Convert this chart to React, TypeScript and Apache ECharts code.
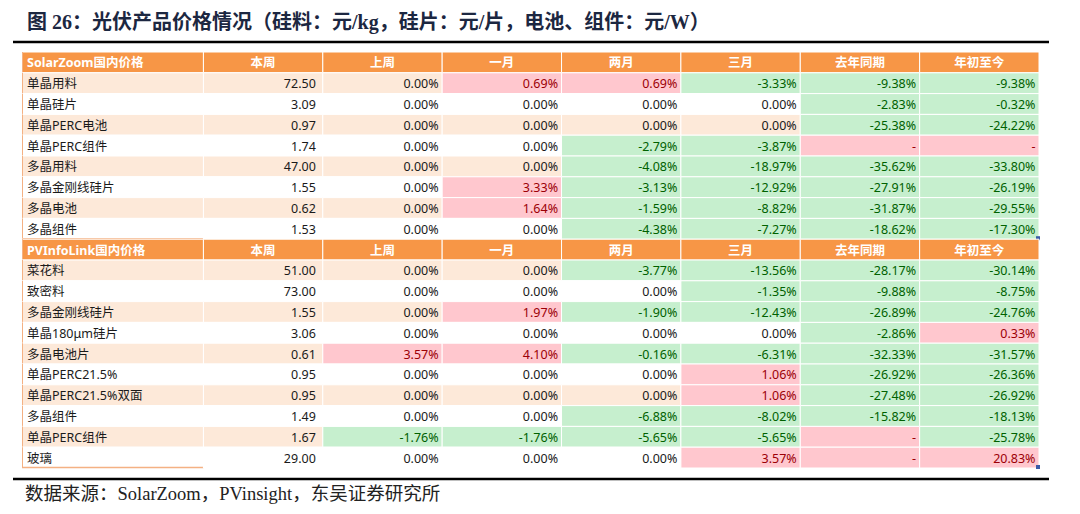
import React, { useEffect, useRef } from "react";
import * as echarts from "echarts";

const columnNames = ["本周", "上周", "一月", "两月", "三月", "去年同期", "年初至今"];
const sectionTitles = ["SolarZoom国内价格", "PVInfoLink国内价格"];

const szProducts = ["单晶用料", "单晶硅片", "单晶PERC电池", "单晶PERC组件", "多晶用料", "多晶金刚线硅片", "多晶电池", "多晶组件"];
const szPrice = [72.5, 3.09, 0.97, 1.74, 47.0, 1.55, 0.62, 1.53];
const szWeek = [0, 0, 0, 0, 0, 0, 0, 0];
const szMonth1 = [0.69, 0, 0, 0, 0, 3.33, 1.64, 0];
const szMonth2 = [0.69, 0, 0, -2.79, -4.08, -3.13, -1.59, -4.38];
const szMonth3 = [-3.33, 0, 0, -3.87, -18.97, -12.92, -8.82, -7.27];
const szYoY = [-9.38, -2.83, -25.38, null, -35.62, -27.91, -31.87, -18.62];
const szYtd = [-9.38, -0.32, -24.22, null, -33.8, -26.19, -29.55, -17.3];

const pvProducts = ["菜花料", "致密料", "多晶金刚线硅片", "单晶180μm硅片", "多晶电池片", "单晶PERC21.5%", "单晶PERC21.5%双面", "多晶组件", "单晶PERC组件", "玻璃"];
const pvPrice = [51.0, 73.0, 1.55, 3.06, 0.61, 0.95, 0.95, 1.49, 1.67, 29.0];
const pvWeek = [0, 0, 0, 0, 3.57, 0, 0, 0, -1.76, 0];
const pvMonth1 = [0, 0, 1.97, 0, 4.1, 0, 0, 0, -1.76, 0];
const pvMonth2 = [-3.77, 0, -1.9, 0, -0.16, 0, 0, -6.88, -5.65, 0];
const pvMonth3 = [-13.56, -1.35, -12.43, 0, -6.31, 1.06, 1.06, -8.02, -5.65, 3.57];
const pvYoY = [-28.17, -9.88, -26.89, -2.86, -32.33, -26.92, -27.48, -15.82, null, null];
const pvYtd = [-30.14, -8.75, -24.76, 0.33, -31.57, -26.36, -26.92, -18.13, -25.78, 20.83];

const titleText = "图 26：光伏产品价格情况（硅料：元/kg，硅片：元/片，电池、组件：元/W）";
const sourceText = "数据来源：SolarZoom，PVinsight，东吴证券研究所";

type Cell = { c: number; r: number; text: string; kind: string; band: number; last: boolean };

const FIRST_W = 1.52;
const colStart = (c: number) => (c === 0 ? 0 : FIRST_W + (c - 1));
const colEnd = (c: number) => (c === 0 ? FIRST_W : FIRST_W + c);

function buildCells(): { cells: Cell[]; rowNames: string[] } {
  const cells: Cell[] = [];
  const rowNames: string[] = [];
  const sections = [
    { title: sectionTitles[0], products: szProducts, price: szPrice, changes: [szWeek, szMonth1, szMonth2, szMonth3, szYoY, szYtd] },
    { title: sectionTitles[1], products: pvProducts, price: pvPrice, changes: [pvWeek, pvMonth1, pvMonth2, pvMonth3, pvYoY, pvYtd] },
  ];
  let r = 0;
  sections.forEach((s) => {
    rowNames.push(s.title);
    cells.push({ c: 0, r, text: s.title, kind: "headerLabel", band: 0, last: false });
    columnNames.forEach((n, i) => cells.push({ c: i + 1, r, text: n, kind: "header", band: 0, last: false }));
    r++;
    s.products.forEach((p, i) => {
      rowNames.push(p);
      const band = i % 2;
      const last = i === s.products.length - 1;
      cells.push({ c: 0, r, text: p, kind: "label", band, last });
      cells.push({ c: 1, r, text: s.price[i].toFixed(2), kind: "price", band, last });
      s.changes.forEach((arr, j) => {
        const v = arr[i];
        let kind = "zero";
        let text = "";
        if (v === null || v === undefined) {
          kind = "na";
          text = "-";
        } else {
          text = v.toFixed(2) + "%";
          kind = v > 0 ? "pos" : v < 0 ? "neg" : "zero";
        }
        cells.push({ c: j + 2, r, text, kind, band, last });
      });
      r++;
    });
  });
  return { cells, rowNames };
}

const FONT = "'Noto Sans', 'Noto Sans CJK SC', sans-serif";
const SERIF = "'Liberation Serif', 'Noto Sans CJK SC', serif";

export default function App() {
  const ref = useRef<HTMLDivElement>(null);
  useEffect(() => {
    if (!ref.current) return;
    const chart = echarts.init(ref.current, undefined, { renderer: "svg" });
    const { cells, rowNames } = buildCells();
    const option: any = {
      animation: false,
      backgroundColor: "#ffffff",
      grid: { left: 22, top: 52, width: 1017, height: 416 },
      xAxis: { type: "value", min: 0, max: FIRST_W + 7, show: false },
      yAxis: { type: "category", data: rowNames, inverse: true, show: false },
      graphic: [
        {
          type: "text",
          left: 27,
          top: 12,
          style: { text: titleText, fontFamily: SERIF, fontWeight: "bold", fontSize: 20, fill: "#1c2741" },
        },
        { type: "line", shape: { x1: 13, y1: 42, x2: 1049, y2: 42 }, style: { stroke: "#000", lineWidth: 2.5 } },
        { type: "line", shape: { x1: 13, y1: 479, x2: 1049, y2: 479 }, style: { stroke: "#000", lineWidth: 2.5 } },
        {
          type: "text",
          left: 25,
          top: 485,
          style: { text: sourceText, fontFamily: SERIF, fontSize: 18.5, fill: "#222" },
        },
      ],
      series: [
        {
          type: "custom",
          coordinateSystem: "cartesian2d",
          data: cells.map((d) => [colStart(d.c), d.r, colEnd(d.c)]),
          renderItem: (params: any, api: any) => {
            const cell = cells[params.dataIndex];
            const p0 = api.coord([colStart(cell.c), cell.r]);
            const p1 = api.coord([colEnd(cell.c), cell.r]);
            const h = api.size([0, 1])[1];
            const x = p0[0];
            const w = p1[0] - p0[0];
            const y = p0[1] - h / 2;
            let fill = cell.band === 0 ? "#fde9d9" : "#ffffff";
            let color = "#1a1a1a";
            let weight: any = "normal";
            let align = "right";
            let tx = x + w - 3.5;
            if (cell.kind === "header" || cell.kind === "headerLabel") {
              fill = "#f79646";
              color = "#ffffff";
              weight = "bold";
              if (cell.kind === "header") {
                align = "center";
                tx = x + w / 2;
              } else {
                align = "left";
                tx = x + 5;
              }
            } else if (cell.kind === "label") {
              align = "left";
              tx = x + 5;
            } else if (cell.kind === "price") {
              tx = x + w - 7;
            } else if (cell.kind === "pos" || cell.kind === "na") {
              fill = "#ffc7ce";
              color = "#9c0006";
            } else if (cell.kind === "neg") {
              fill = "#c6efce";
              color = "#006100";
            }
            const children: any[] = [
              {
                type: "rect",
                shape: { x, y, width: w, height: h },
                style: { fill, stroke: "#ffffff", lineWidth: 1 },
              },
              {
                type: "text",
                style: {
                  text: cell.text,
                  x: tx,
                  y: p0[1] + 0.5,
                  align,
                  verticalAlign: "middle",
                  fill: color,
                  fontSize: 12.5,
                  fontWeight: weight,
                  fontFamily: FONT,
                },
              },
            ];
            if (cell.c === 0) {
              children.push({
                type: "line",
                shape: { x1: x + 0.5, y1: y, x2: x + 0.5, y2: y + h },
                style: { stroke: "#f4b183", lineWidth: 1 },
              });
              if (cell.last) {
                children.push({
                  type: "line",
                  shape: { x1: x, y1: y + h - 0.5, x2: x + w, y2: y + h - 0.5 },
                  style: { stroke: "#f4b183", lineWidth: 1.5 },
                });
              }
            }
            if (cell.c === 7 && cell.last) {
              children.push({
                type: "rect",
                shape: { x: x + w - 3, y: y + h - 3, width: 4, height: 4 },
                style: { fill: "#3b5aa6" },
              });
            }
            return { type: "group", children };
          },
        },
      ],
    };
    chart.setOption(option);
    return () => chart.dispose();
  }, []);
  return <div ref={ref} style={{ position: "fixed", left: 0, top: 0, width: 1080, height: 514 }} />;
}
